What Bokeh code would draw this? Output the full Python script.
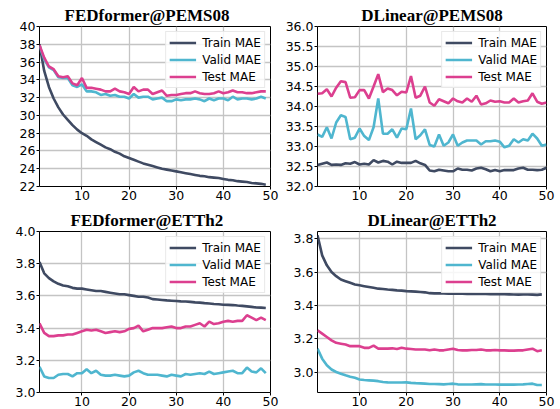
from bokeh.plotting import figure
from bokeh.models import Range1d, FixedTicker, PrintfTickFormatter
from bokeh.layouts import gridplot
from bokeh.embed import file_html
from bokeh.resources import INLINE

# ---------------- data ----------------
epochs_49 = list(range(1, 50))
epochs_50 = list(range(1, 51))

fed_pems_train = [38.0, 35.0, 33.2, 31.9, 30.9, 30.1, 29.5, 28.9, 28.4, 28.0,
                  27.7, 27.3, 27.0, 26.7, 26.4, 26.2, 25.9, 25.7, 25.4, 25.2,
                  25.0, 24.8, 24.6, 24.45, 24.3, 24.15, 24.0, 23.9, 23.8, 23.7,
                  23.6, 23.5, 23.4, 23.3, 23.2, 23.15, 23.05, 23.0, 22.95, 22.85,
                  22.75, 22.7, 22.6, 22.55, 22.5, 22.4, 22.35, 22.3, 22.2]
fed_pems_valid = [37.8, 36.3, 35.4, 35.1, 34.3, 34.2, 34.2, 33.4, 33.2, 33.5,
                  32.7, 32.7, 32.6, 32.3, 32.4, 32.2, 32.3, 32.1, 32.1, 31.9,
                  32.4, 32.0, 32.1, 32.1, 31.8, 31.9, 32.0, 31.6, 31.6, 31.8,
                  31.7, 31.8, 31.8, 31.9, 31.8, 31.6, 31.9, 31.7, 31.9, 31.9,
                  31.7, 32.1, 31.8, 31.9, 31.9, 31.8, 31.9, 32.1, 31.9]
fed_pems_test = [37.9, 36.5, 35.5, 35.2, 34.4, 34.3, 34.4, 33.6, 33.4, 34.2,
                 33.1, 33.1, 33.0, 32.9, 32.7, 32.7, 33.0, 32.7, 32.6, 32.4,
                 33.2, 32.7, 32.9, 32.9, 32.4, 32.6, 32.8, 32.2, 32.3, 32.3,
                 32.4, 32.5, 32.5, 32.7, 32.5, 32.4, 32.4, 32.5, 32.7, 32.5,
                 32.6, 32.8, 32.6, 32.6, 32.5, 32.5, 32.6, 32.7, 32.7]

dl_pems_train = [32.54, 32.57, 32.6, 32.54, 32.55, 32.54, 32.58, 32.57, 32.61, 32.55,
                 32.57, 32.55, 32.66, 32.6, 32.64, 32.62, 32.55, 32.62, 32.59, 32.59,
                 32.59, 32.64, 32.58, 32.54, 32.4, 32.38, 32.42, 32.4, 32.38, 32.38,
                 32.45, 32.42, 32.42, 32.4, 32.45, 32.47, 32.43, 32.38, 32.41, 32.38,
                 32.41, 32.41, 32.41, 32.45, 32.47, 32.42, 32.42, 32.41, 32.42, 32.47]
dl_pems_valid = [33.3, 33.24, 33.48, 33.2, 33.6, 33.78, 33.74, 33.18, 33.22, 33.45,
                 33.26, 33.16, 33.48, 34.2, 33.32, 33.32, 33.43, 33.22, 33.45, 33.43,
                 33.95, 33.18, 33.28, 33.43, 33.04, 33.0, 33.3, 33.02, 33.1, 33.3,
                 33.02, 33.1, 33.15, 33.15, 33.15, 33.05, 33.13, 33.13, 33.15, 33.12,
                 32.98, 33.02, 33.18, 33.1, 33.18, 33.15, 33.32, 33.2, 33.02, 33.05]
dl_pems_test = [34.32, 34.33, 34.43, 34.25, 34.47, 34.63, 34.61, 34.22, 34.23, 34.41,
                34.41, 34.2, 34.5, 34.81, 34.36, 34.45, 34.41, 34.28, 34.37, 34.35,
                34.76, 34.22, 34.27, 34.5, 34.1, 34.02, 34.18, 34.13, 34.08, 34.2,
                34.13, 34.1, 34.2, 34.12, 34.27, 34.05, 34.08, 34.15, 34.12, 34.13,
                34.1, 34.1, 34.2, 34.1, 34.13, 34.15, 34.33, 34.12, 34.07, 34.1]

fed_etth2_train = [3.81, 3.74, 3.71, 3.69, 3.675, 3.665, 3.66, 3.65, 3.645, 3.645,
                   3.64, 3.635, 3.63, 3.63, 3.625, 3.62, 3.615, 3.61, 3.61, 3.605,
                   3.60, 3.595, 3.595, 3.59, 3.58, 3.578, 3.575, 3.572, 3.57, 3.568,
                   3.566, 3.565, 3.563, 3.56, 3.558, 3.555, 3.553, 3.55, 3.548, 3.545,
                   3.544, 3.543, 3.54, 3.538, 3.535, 3.532, 3.528, 3.527, 3.525]
fed_etth2_valid = [3.16, 3.10, 3.09, 3.09, 3.11, 3.115, 3.115, 3.10, 3.12, 3.12,
                   3.145, 3.12, 3.135, 3.11, 3.105, 3.105, 3.11, 3.105, 3.10, 3.105,
                   3.125, 3.135, 3.12, 3.11, 3.11, 3.11, 3.105, 3.10, 3.11, 3.105,
                   3.10, 3.115, 3.11, 3.115, 3.12, 3.115, 3.13, 3.115, 3.12, 3.125,
                   3.13, 3.135, 3.12, 3.12, 3.155, 3.13, 3.125, 3.15, 3.12]
fed_etth2_test = [3.43, 3.37, 3.35, 3.35, 3.355, 3.355, 3.36, 3.36, 3.37, 3.38,
                  3.39, 3.385, 3.39, 3.38, 3.37, 3.375, 3.38, 3.375, 3.38, 3.395,
                  3.40, 3.415, 3.38, 3.39, 3.40, 3.40, 3.40, 3.405, 3.41, 3.40,
                  3.40, 3.41, 3.41, 3.42, 3.43, 3.41, 3.44, 3.425, 3.43, 3.44,
                  3.445, 3.44, 3.445, 3.445, 3.48, 3.465, 3.45, 3.465, 3.45]

dl_etth2_train = [3.82, 3.70, 3.64, 3.60, 3.575, 3.555, 3.545, 3.535, 3.525, 3.52,
                  3.515, 3.51, 3.505, 3.50, 3.498, 3.495, 3.493, 3.49, 3.488, 3.485,
                  3.484, 3.482, 3.48, 3.478, 3.473, 3.472, 3.472, 3.471, 3.47, 3.47,
                  3.47, 3.47, 3.469, 3.469, 3.468, 3.468, 3.468, 3.467, 3.467, 3.467,
                  3.467, 3.466, 3.465, 3.464, 3.465, 3.465, 3.464, 3.463, 3.466]
dl_etth2_valid = [3.14, 3.08, 3.04, 3.015, 3.0, 2.99, 2.98, 2.972, 2.965, 2.955,
                  2.952, 2.95, 2.948, 2.945, 2.94, 2.938, 2.937, 2.937, 2.937, 2.938,
                  2.935, 2.933, 2.932, 2.93, 2.928, 2.928, 2.927, 2.926, 2.928, 2.93,
                  2.926, 2.925, 2.925, 2.925, 2.926, 2.927, 2.925, 2.925, 2.925, 2.924,
                  2.924, 2.924, 2.924, 2.925, 2.926, 2.928, 2.93, 2.922, 2.922]
dl_etth2_test = [3.25, 3.23, 3.21, 3.19, 3.175, 3.17, 3.165, 3.155, 3.155, 3.155,
                 3.145, 3.145, 3.158, 3.14, 3.14, 3.14, 3.142, 3.138, 3.145, 3.14,
                 3.138, 3.135, 3.135, 3.135, 3.13, 3.135, 3.13, 3.13, 3.135, 3.14,
                 3.132, 3.13, 3.13, 3.132, 3.132, 3.135, 3.13, 3.13, 3.132, 3.13,
                 3.13, 3.128, 3.128, 3.13, 3.13, 3.135, 3.14, 3.125, 3.13]

x_ticks = [10, 20, 30, 40, 50]
series_labels = ["Train MAE", "Valid MAE", "Test MAE"]
series_colors = ["#3f4a62", "#4fb6cf", "#dc3f8f"]


def make_panel(title, x, ys, y0, y1, yticks, fmt, w, h, left, right, top, bottom,
               title_offset=None):
    p = figure(width=w, height=h, output_backend="svg", toolbar_location=None,
               x_range=Range1d(1, 50), y_range=Range1d(y0, y1),
               min_border_left=left, min_border_right=right,
               min_border_top=top, min_border_bottom=bottom)
    p.title.text = title
    p.title.text_font = "Liberation Serif"
    p.title.text_font_style = "bold"
    p.title.text_font_size = "17px"
    if title_offset is None:
        p.title.align = "center"
    else:
        p.title.align = "left"
        p.title.offset = title_offset
    p.title.standoff = 3
    p.title.text_color = "black"

    p.outline_line_color = "black"
    p.outline_line_width = 1
    p.outline_line_alpha = 1
    p.background_fill_color = "white"
    p.border_fill_color = "white"

    p.xaxis.ticker = FixedTicker(ticks=x_ticks)
    p.yaxis.ticker = FixedTicker(ticks=yticks)
    p.yaxis.formatter = PrintfTickFormatter(format=fmt)
    for ax in (p.xaxis[0], p.yaxis[0]):
        ax.axis_line_color = None
        ax.major_tick_in = 0
        ax.major_tick_out = 3
        ax.major_tick_line_color = "black"
        ax.minor_tick_line_color = None
        ax.major_label_text_font = "DejaVu Sans"
        ax.major_label_text_font_size = "12.5px"
        ax.major_label_text_color = "black"
        ax.major_label_standoff = 1
    p.xgrid.ticker = FixedTicker(ticks=x_ticks)
    p.ygrid.ticker = FixedTicker(ticks=yticks)
    p.grid.grid_line_color = "#c4c4c4"
    p.grid.grid_line_width = 1.3

    for yv, lab, col in zip(ys, series_labels, series_colors):
        p.line(x, yv, line_color=col, line_width=2.6, legend_label=lab)

    lg = p.legend[0]
    lg.location = "top_right"
    lg.margin = 5
    lg.padding = 3
    lg.spacing = 2
    lg.glyph_width = 27
    lg.glyph_height = 15
    lg.label_height = 15
    lg.label_standoff = 6
    lg.label_text_font = "DejaVu Sans"
    lg.label_text_font_size = "12px"
    lg.label_text_color = "black"
    lg.border_line_color = "#d4d4d4"
    lg.border_line_width = 1
    lg.background_fill_alpha = 0.85
    return p


p1 = make_panel("FEDformer@PEMS08", epochs_49,
                [fed_pems_train, fed_pems_valid, fed_pems_test],
                22, 40, [22, 24, 26, 28, 30, 32, 34, 36, 38, 40], "%d",
                280, 203, 39, 10, 26, 17, title_offset=25)
p2 = make_panel("DLinear@PEMS08", epochs_50,
                [dl_pems_train, dl_pems_valid, dl_pems_test],
                32, 36, [32.0, 32.5, 33.0, 33.5, 34.0, 34.5, 35.0, 35.5, 36.0], "%.1f",
                280, 203, 37, 12, 26, 17)
p3 = make_panel("FEDformer@ETTh2", epochs_49,
                [fed_etth2_train, fed_etth2_valid, fed_etth2_test],
                3.0, 4.0, [3.0, 3.2, 3.4, 3.6, 3.8, 4.0], "%.1f",
                280, 206, 39, 10, 28, 17, title_offset=31)
p4 = make_panel("DLinear@ETTh2", epochs_49,
                [dl_etth2_train, dl_etth2_valid, dl_etth2_test],
                2.877, 3.843, [3.0, 3.2, 3.4, 3.6, 3.8], "%.1f",
                280, 206, 35, 14, 28, 17)

grid = gridplot([[p1, p2], [p3, p4]], toolbar_location=None)
open("out.html", "w").write(file_html(grid, INLINE))
